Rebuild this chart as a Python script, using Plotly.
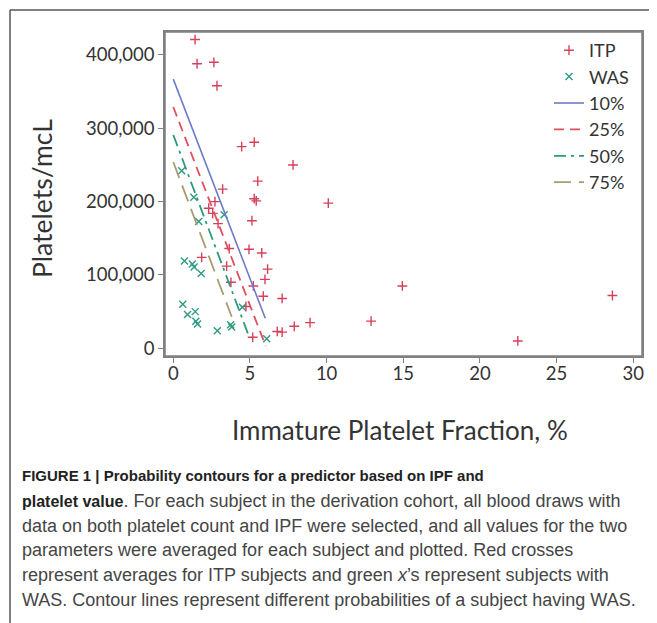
import plotly.graph_objects as go

# ---- data ----
itp_x = [1.42, 1.55, 2.65, 2.85, 4.46, 5.28, 7.81, 5.51, 5.28, 5.41, 10.11, 3.22, 2.72,
         2.31, 2.57, 2.92, 5.13, 3.65, 4.94, 5.77, 6.15, 1.85, 3.48, 3.76, 5.98, 5.22,
         5.87, 7.10, 4.74, 8.92, 7.89, 6.78, 7.10, 5.18, 12.9, 14.94, 22.47, 28.64]
itp_y = [421000, 388000, 390000, 358000, 275000, 281000, 250000, 228000, 204000, 201000,
         198000, 217000, 200000, 191000, 184000, 170000, 174000, 136000, 135000, 130000,
         108000, 124000, 112000, 90000, 94000, 85000, 71000, 68000, 57000, 35000, 30000,
         23000, 22000, 15000, 37000, 85000, 10000, 72000]

was_x = [0.55, 1.34, 3.32, 1.66, 0.73, 1.24, 1.36, 1.82, 0.62, 0.93, 1.43, 1.47, 1.58,
         2.87, 3.74, 3.81, 4.51, 6.09]
was_y = [242000, 206000, 182000, 173000, 119000, 115000, 111000, 102000, 60000, 46000,
         50000, 37000, 33000, 24000, 32000, 29000, 56000, 13000]

c10_x = [0, 6.0]
c10_y = [367000, 41000]
c25_x = [0, 6.03]
c25_y = [329000, 3000]
c50_x = [0, 4.96]
c50_y = [291000, 15000]
c75_x = [0, 3.81]
c75_y = [254000, 43000]

x_ticks = [0, 5, 10, 15, 20, 25, 30]
y_ticks = [0, 100000, 200000, 300000, 400000]
y_tick_labels = ["0", "100,000", "200,000", "300,000", "400,000"]

BOLD = '<b><span style="font-size:{}px;color:#222222">{}</span></b>'
caption_lines = [
    BOLD.format(15, "FIGURE 1 | Probability contours for a predictor based on IPF and"),
    BOLD.format(16, "platelet value") + ". For each subject in the derivation cohort, all blood draws with",
    "data on both platelet count and IPF were selected, and all values for the two",
    "parameters were averaged for each subject and plotted. Red crosses",
    "represent averages for ITP subjects and green <i>x</i>’s represent subjects with",
    "WAS. Contour lines represent different probabilities of a subject having WAS.",
]

# ---- layout geometry (page pixels; the page body adds an 8px margin) ----
OFF = 8
PAGE_W, PAGE_H = 657, 623
L, R, T, B = 165, 642, 32, 356
PW, PH = R - L, B - T


def px_x(px):
    return (px - L) / PW


def px_y(py):
    return (B - py) / PH


FONT = "Lato"

fig = go.Figure()
fig.add_trace(go.Scatter(x=itp_x, y=itp_y, mode="markers", name="ITP",
                         marker=dict(symbol="cross-thin", size=7, color="#d6405c",
                                     line=dict(width=1.4, color="#d6405c"))))
fig.add_trace(go.Scatter(x=was_x, y=was_y, mode="markers", name="WAS",
                         marker=dict(symbol="x-thin", size=7, color="#2f9a80",
                                     line=dict(width=1.4, color="#2f9a80"))))
fig.add_trace(go.Scatter(x=c10_x, y=c10_y, mode="lines", name="10%",
                         line=dict(color="#6c7cc8", width=1.6, dash="solid")))
fig.add_trace(go.Scatter(x=c25_x, y=c25_y, mode="lines", name="25%",
                         line=dict(color="#e0505c", width=1.8, dash="10px,6px")))
fig.add_trace(go.Scatter(x=c50_x, y=c50_y, mode="lines", name="50%",
                         line=dict(color="#2e9a78", width=1.8, dash="12px,5px,3px,5px")))
fig.add_trace(go.Scatter(x=c75_x, y=c75_y, mode="lines", name="75%",
                         line=dict(color="#a89c70", width=1.8, dash="17px,8px")))

axis_common = dict(showgrid=False, zeroline=False, showline=True, linecolor="#808080",
                   linewidth=1.5, mirror=True, ticks="outside", ticklen=5,
                   tickcolor="#808080", tickwidth=1.2,
                   tickfont=dict(family=FONT, size=18.5, color="#333333"))

fig.update_xaxes(range=[-0.54, 30.57], tickvals=x_ticks, ticklabelstandoff=-5,
                 **axis_common)
fig.update_yaxes(range=[-10500, 431300], tickvals=y_ticks, ticktext=y_tick_labels,
                 **axis_common)

annotations = [
    dict(text="Immature Platelet Fraction, %", xref="paper", yref="paper",
         x=px_x(400), y=px_y(430), xanchor="center", yanchor="middle", showarrow=False,
         font=dict(family=FONT, size=26, color="#333333")),
    dict(text="Platelets/mcL", xref="paper", yref="paper", textangle=-90,
         x=px_x(42), y=px_y(199), xanchor="center", yanchor="middle", showarrow=False,
         font=dict(family=FONT, size=26.5, color="#333333")),
]
line_y0 = 476
for i, line in enumerate(caption_lines):
    annotations.append(dict(text=line, xref="paper", yref="paper",
                            x=px_x(20), y=px_y(line_y0 + i * 24.8),
                            xanchor="left", yanchor="middle", align="left",
                            showarrow=False,
                            font=dict(family="Liberation Sans", size=18,
                                      color="#454545")))

shapes = [
    dict(type="rect", xref="paper", yref="paper", x0=0, x1=1, y0=0, y1=1,
         line=dict(color="#808080", width=1.5), layer="above"),
    dict(type="line", xref="paper", yref="paper", x0=px_x(10), x1=px_x(10),
         y0=px_y(10), y1=px_y(630), line=dict(color="#555555", width=1.5)),
    dict(type="line", xref="paper", yref="paper", x0=px_x(10), x1=px_x(660),
         y0=px_y(10), y1=px_y(10), line=dict(color="#555555", width=1.5)),
]

fig.update_layout(
    width=PAGE_W - OFF, height=PAGE_H - OFF,
    margin=dict(l=L - OFF, r=PAGE_W - R, t=T - OFF, b=PAGE_H - B, autoexpand=False),
    paper_bgcolor="white", plot_bgcolor="white",
    showlegend=True,
    legend=dict(x=px_x(549), y=px_y(32), xanchor="left", yanchor="top",
                bgcolor="rgba(0,0,0,0)", borderwidth=0,
                font=dict(family=FONT, size=18, color="#333333"),
                tracegroupgap=0),
    annotations=annotations,
    shapes=shapes,
)

fig.write_html("out.html")
